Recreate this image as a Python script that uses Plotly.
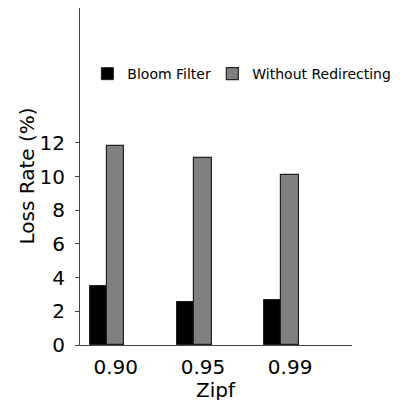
import plotly.graph_objects as go

categories = ["0.90", "0.95", "0.99"]
bloom_filter = [3.5, 2.55, 2.7]
without_redirecting = [11.8, 11.1, 10.1]
y_ticks = [0, 2, 4, 6, 8, 10, 12]
x_title = "Zipf"
y_title = "Loss Rate (%)"

pos = list(range(len(categories)))
w = 0.2

fig = go.Figure()
fig.add_trace(go.Bar(
    x=[p - w / 2 for p in pos], y=bloom_filter, width=w, name="Bloom Filter",
    marker=dict(color="#000000", line=dict(color="#222222", width=1)),
    legend="legend",
))
fig.add_trace(go.Bar(
    x=[p + w / 2 for p in pos], y=without_redirecting, width=w, name="Without Redirecting",
    marker=dict(color="#808080", line=dict(color="#222222", width=1.2)),
    legend="legend2",
))

font = "DejaVu Sans"
leg_common = dict(orientation="h", yanchor="middle", xanchor="left",
                  font=dict(size=14), bgcolor="rgba(0,0,0,0)")
fig.update_layout(
    width=392, height=392,
    margin=dict(l=71.5, r=48.3, t=0, b=54.7, autoexpand=False),
    paper_bgcolor="white", plot_bgcolor="white",
    font=dict(family=font, size=20, color="#000000"),
    showlegend=True,
    legend=dict(x=0.027, y=0.804, **leg_common),
    legend2=dict(x=0.4865, y=0.804, **leg_common),
    bargap=0,
    annotations=[
        dict(text=x_title, xref="paper", yref="paper", x=0.5, y=0,
             xanchor="center", yanchor="middle", yshift=-45, showarrow=False,
             font=dict(size=20)),
        dict(text=y_title, xref="paper", yref="paper", x=0, y=0.5,
             xanchor="center", yanchor="middle", xshift=-54, textangle=-90,
             showarrow=False, font=dict(size=20)),
    ],
)
fig.update_xaxes(
    range=[-0.31, 2.81],
    tickvals=[p + w / 2 for p in pos], ticktext=categories,
    showline=True, linecolor="#444444", linewidth=1.2,
    ticks="", showgrid=False, zeroline=False,
    ticklabelstandoff=4, automargin=False,
)
fig.update_yaxes(
    range=[0, 20],
    tickvals=y_ticks,
    showline=True, linecolor="#444444", linewidth=1.2,
    ticks="outside", ticklen=4, tickcolor="#444444",
    showgrid=False, zeroline=False,
    ticklabelstandoff=6, automargin=False,
)
fig.write_html("out.html")
